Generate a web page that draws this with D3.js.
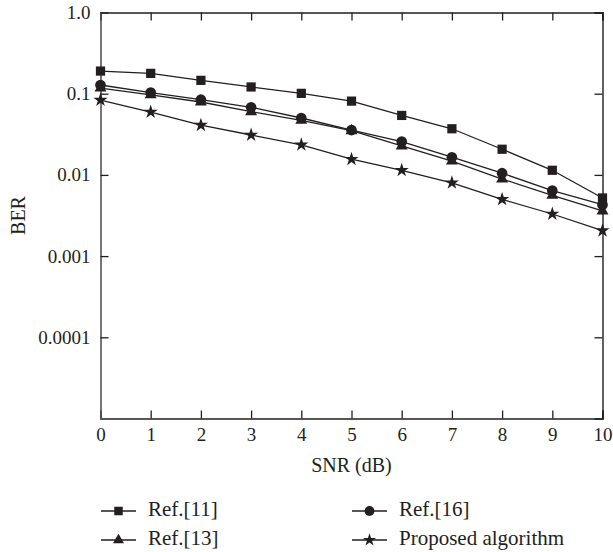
<!DOCTYPE html>
<html><head><meta charset="utf-8">
<script src="https://cdn.jsdelivr.net/npm/d3@7"></script>
<style>
html,body{margin:0;padding:0;background:#fff;}
svg text{font-family:"Liberation Serif","Times New Roman",serif;fill:#231f20;}
</style></head>
<body>
<svg id="chart" width="613" height="552"></svg>
<script>
const snr = [0,1,2,3,4,5,6,7,8,9,10];
const ref11 = [0.19,0.178,0.146,0.121,0.101,0.081,0.054,0.037,0.0207,0.0114,0.0052];
const ref16 = [0.128,0.103,0.0844,0.068,0.0502,0.0357,0.0257,0.0165,0.0105,0.0064,0.0043];
const ref13 = [0.117,0.097,0.079,0.060,0.047,0.035,0.0227,0.0148,0.0089,0.0056,0.0036];
const proposed = [0.0836,0.0595,0.041,0.031,0.0235,0.0156,0.0114,0.008,0.005,0.0033,0.00206];
const seriesNames = ["Ref.[11]","Ref.[13]","Ref.[16]","Proposed algorithm"];
const xTickValues = [0,1,2,3,4,5,6,7,8,9,10];
const yTickValues = [1,0.1,0.01,0.001,0.0001];
const yTickLabels = ["1.0","0.1","0.01","0.001","0.0001"];

const ink = "#231f20";
const svg = d3.select("#chart");
const L=100.5, R=602.5, T=12.5, B=418.5;
const x = d3.scaleLinear().domain([0,10]).range([L,R]);
const y = d3.scaleLog().domain([1e-5,1]).range([B,T]);

const series = [
  {name:seriesNames[0], vals:ref11, sym:d3.symbolSquare, size:85},
  {name:seriesNames[1], vals:ref13, sym:d3.symbolTriangle, size:62},
  {name:seriesNames[2], vals:ref16, sym:d3.symbolCircle, size:90},
  {name:seriesNames[3], vals:proposed, sym:d3.symbolStar, size:62}
];

// axes
const fs = 19;
const gB = svg.append("g").attr("transform",`translate(0,${B})`)
  .call(d3.axisBottom(x).tickValues(xTickValues).tickSize(-8).tickPadding(9).tickFormat(d3.format("d")));
const gT = svg.append("g").attr("transform",`translate(0,${T})`)
  .call(d3.axisTop(x).tickValues(xTickValues).tickSize(-8).tickFormat(""));
const gL = svg.append("g").attr("transform",`translate(${L},0)`)
  .call(d3.axisLeft(y).tickValues(yTickValues).tickSize(-8).tickPadding(10).tickFormat((d,i)=>yTickLabels[i]));
const gR = svg.append("g").attr("transform",`translate(${R},0)`)
  .call(d3.axisRight(y).tickValues(yTickValues).tickSize(-8).tickFormat(""));
[gB,gT,gL,gR].forEach(g=>{
  g.selectAll("path.domain").attr("stroke",ink).attr("stroke-width",1.4);
  g.selectAll(".tick line").attr("stroke",ink).attr("stroke-width",1.3);
  g.selectAll(".tick text").attr("font-size",fs).attr("fill",ink);
});
gL.selectAll("path.domain").attr("stroke","#555").attr("stroke-width",1.6);

// lines and markers
const line = d3.line().x((d,i)=>x(snr[i])).y(d=>y(d));
series.forEach(s=>{
  svg.append("path").datum(s.vals).attr("d",line)
    .attr("fill","none").attr("stroke",ink).attr("stroke-width",1.3);
  svg.append("g").selectAll("path").data(s.vals).join("path")
    .attr("transform",(d,i)=>`translate(${x(snr[i])},${y(d)})`)
    .attr("d",d3.symbol().type(s.sym).size(s.size)).attr("fill",ink);
});

// axis titles
svg.append("text").attr("x",(L+R)/2).attr("y",472).attr("text-anchor","middle")
  .attr("font-size",20).text("SNR (dB)");
svg.append("text").attr("transform",`translate(25,${(T+B)/2}) rotate(-90)`)
  .attr("text-anchor","middle").attr("font-size",20).text("BER");

// legend
const legPos = [
  {lx:101, ly:511, s:series[0]},
  {lx:101, ly:540, s:series[1]},
  {lx:352, ly:511, s:series[2]},
  {lx:352, ly:540, s:series[3]}
];
legPos.forEach(p=>{
  svg.append("line").attr("x1",p.lx).attr("x2",p.lx+35).attr("y1",p.ly).attr("y2",p.ly)
    .attr("stroke",ink).attr("stroke-width",1.3);
  svg.append("path").attr("transform",`translate(${p.lx+17.5},${p.ly})`)
    .attr("d",d3.symbol().type(p.s.sym).size(p.s.size*0.85)).attr("fill",ink);
  svg.append("text").attr("x",p.lx+47).attr("y",p.ly+5).attr("font-size",21).text(p.s.name);
});
</script>
</body></html>
